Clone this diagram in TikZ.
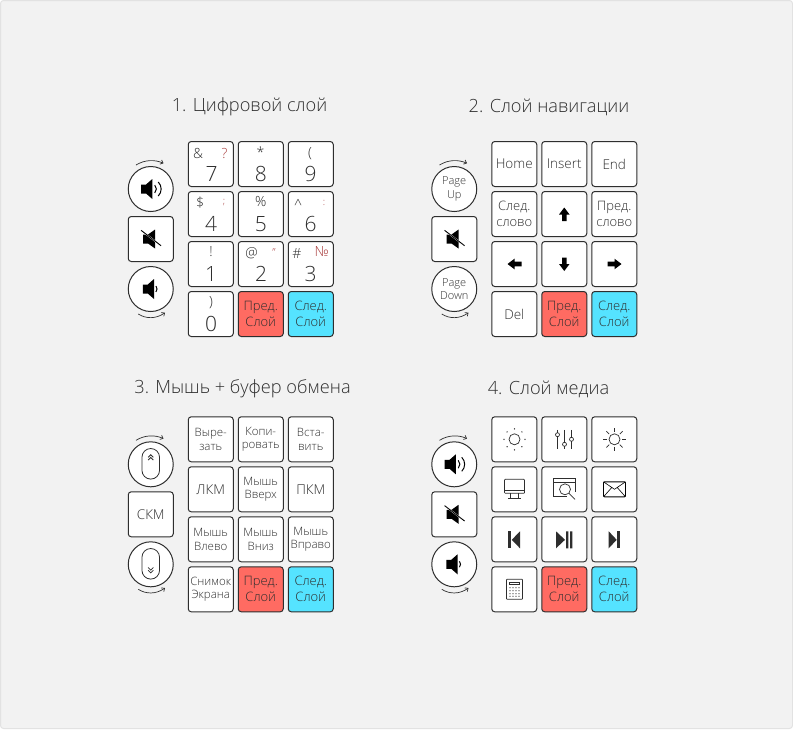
\documentclass[tikz,border=0pt]{standalone}
\usepackage{fontspec}
\setmainfont{Open Sans Light}
\usetikzlibrary{arrows.meta}
\definecolor{bgc}{HTML}{F2F2F2}
\definecolor{edgec}{HTML}{E2E2E2}
\definecolor{ink}{HTML}{2E2E2E}
\definecolor{redk}{HTML}{FF6B62}
\definecolor{cyank}{HTML}{55E3FF}
\definecolor{redt}{HTML}{A83A3A}
\tikzset{
  keybox/.style={draw=ink,line width=1pt,rounded corners=3pt,fill=white,minimum width=45pt,minimum height=45pt,inner sep=0pt,align=center,text=ink,font=\fontsize{13}{16}\selectfont},
  redbox/.style={keybox,fill=redk},
  cyanbox/.style={keybox,fill=cyank},
  big/.style={font=\fontsize{13.5}{16}\selectfont},
  small/.style={font=\fontsize{11.5}{13.5}\selectfont},
  roundkey/.style={draw=ink,line width=1pt,circle,fill=white,minimum size=45pt,inner sep=0pt,align=center,text=ink,font=\fontsize{11}{13.5}\selectfont},
  title/.style={font=\fontsize{18.2}{20}\selectfont,text=ink,inner sep=0pt},
  sym/.style={font=\fontsize{14}{14}\selectfont,text=ink,inner sep=0pt},
  symred/.style={sym,text=redt},
  digit/.style={font=\fontsize{21}{22}\selectfont,text=ink,inner sep=0pt},
  turn/.style={draw=ink,line width=.7pt,-{Straight Barb[length=2.5pt,width=4.5pt]}},
  thinicon/.style={draw=ink,line width=.7pt},
  solidicon/.style={fill=ink,draw=none}
}
% name, column, row, options, text
\newcommand{\K}[5]{\node[keybox,#4] (#1) at ({160.75+50*#2},{114+50*#3}) {#5};}
\newcommand{\spkshape}[2]{\fill[black,shift={(#1,#2)}] (-9.7,-4.5) -- (-4.7,-4.5) -- (1.6,-10) -- (1.6,10) -- (-4.7,4.5) -- (-9.7,4.5) -- cycle;}
\newcommand{\spkloud}[2]{\spkshape{#1}{#2}\draw[black,line width=1pt,shift={(#1,#2)}] (4,-4) arc[start angle=-45,end angle=45,radius=5.6] (7.5,-7) arc[start angle=-45,end angle=45,radius=9.9];}
\newcommand{\spklow}[2]{\fill[black,shift={(#1,#2)}] (-8,-4.5) -- (-3,-4.5) -- (3.3,-10) -- (3.3,10) -- (-3,4.5) -- (-8,4.5) -- cycle;\draw[black,line width=1pt,shift={(#1,#2)}] (5.2,-3) arc[start angle=-40,end angle=40,radius=4.6];}
\newcommand{\spkmute}[2]{\fill[black,shift={(#1,#2)}] (-7.7,-4.5) -- (-2.7,-4.5) -- (4.3,-9.5) -- (4.3,9.5) -- (-2.7,4.5) -- (-7.7,4.5) -- cycle;\draw[white,line width=1.4pt,shift={(#1,#2)}] (-9.7,-8.7) -- (10.3,6.7);\draw[black,line width=.9pt,shift={(#1,#2)}] (-9.7,-8.7) -- (10.3,6.7);}
\newcommand{\turns}{%
  \draw[turn] (136,165) .. controls (145,159.5) and (155,159.5) .. (163.5,163.3);
  \draw[turn] (138.3,314) .. controls (146,319) and (156,319) .. (165,312.7);
}
\newcommand{\mouseicon}[3]{%
  \draw[ink,line width=.8pt] (#1,#2) ++(-8.8,-6.5) arc[start angle=180,end angle=360,radius=8.8] -- ++(0,13) arc[start angle=0,end angle=180,radius=8.8] -- cycle;
  \draw[ink,line width=.8pt] (#1,#2) ++(-2.6,#3*-6.5) -- ++(2.6,#3*-2.6) -- ++(2.6,#3*2.6) ++(-5.2,#3*2.8) -- ++(2.6,#3*-2.6) -- ++(2.6,#3*2.6);
}
\begin{document}
\begin{tikzpicture}[x=1pt,y=-1pt]
\useasboundingbox (0,0) rectangle (793,729);
\draw[edgec,fill=bgc,line width=1pt,rounded corners=3pt] (.5,.5) rectangle (792.5,728.5);

% ---------- panel 1
\node[title] (t1) at (249.5,107) {1. Цифровой слой};
\turns
\node[roundkey] (a-up) at (150.75,189) {};
\spkloud{150.75}{189}
\node[keybox] (a-mute) at (150.75,239) {};
\spkmute{150.75}{239}
\node[roundkey] (a-dn) at (150.75,289) {};
\spklow{150.75}{289}
\K{a7}{1}{1}{}{}\K{a8}{2}{1}{}{}\K{a9}{3}{1}{}{}
\K{a4}{1}{2}{}{}\K{a5}{2}{2}{}{}\K{a6}{3}{2}{}{}
\K{a1}{1}{3}{}{}\K{a2}{2}{3}{}{}\K{a3}{3}{3}{}{}
\K{a0}{1}{4}{}{}\K{ap}{2}{4}{redbox}{Пред.\\Слой}\K{an}{3}{4}{cyanbox}{След.\\Слой}
\node[digit] (d7) at (211.5,173.5) {7};
\node[digit] (d8) at (260.75,173.5) {8};
\node[digit] (d9) at (310.5,173.5) {9};
\node[digit] (d4) at (211,224) {4};
\node[digit] (d5) at (260.75,224) {5};
\node[digit] (d6) at (310.5,224) {6};
\node[digit] (d1) at (211,274) {1};
\node[digit] (d2) at (261,274) {2};
\node[digit] (d3) at (310.5,274) {3};
\node[digit] (d0) at (211,324) {0};
\node[sym] (s7a) at (198,153) {\&};
\node[symred] (s7b) at (224.5,153) {?};
\node[sym] (s8) at (260.5,152) {*};
\node[sym] (s9) at (310,154) {(};
\node[sym] (s4a) at (200,203) {\$};
\node[symred,font=\fontsize{10}{10}\selectfont] (s4b) at (224,203) {;};
\node[sym] (s5) at (260.75,202) {\%};
\node[sym] (s6a) at (298,204) {\^{}};
\node[symred,font=\fontsize{10}{10}\selectfont] (s6b) at (324,203) {:};
\node[sym] (s1) at (211,252) {!};
\node[sym] (s2a) at (251.5,253) {@};
\node[symred,font=\fontsize{11}{11}\selectfont] (s2b) at (274,253) {"};
\node[sym] (s3a) at (297,253) {\#};
\node[symred] (s3b) at (321.7,251.5) {№};
\node[sym] (s0) at (211,303) {)};

% ---------- panel 2
\begin{scope}[shift={(303.5,0)}]
\node[title] (t2) at (245.5,107) {2. Слой навигации};
\turns
\node[roundkey] (b-up) at (150.75,189) {Page\\Up};
\node[keybox] (b-mute) at (150.75,239) {};
\spkmute{150.75}{239}
\node[roundkey] (b-dn) at (150.75,289) {Page\\Down};
\K{b1}{1}{1}{big}{Home}\K{b2}{2}{1}{big}{Insert}\K{b3}{3}{1}{big}{End}
\K{b4}{1}{2}{}{След.\\слово}\K{b5}{2}{2}{}{}\K{b6}{3}{2}{}{Пред.\\слово}
\K{b7}{1}{3}{}{}\K{b8}{2}{3}{}{}\K{b9}{3}{3}{}{}
\K{b0}{1}{4}{big}{Del}\K{bp}{2}{4}{redbox}{Пред.\\Слой}\K{bn}{3}{4}{cyanbox}{След.\\Слой}
\fill[black] (260.75,207.5) -- (266,214.5) -- (263,214.5) -- (263,221) -- (258.5,221) -- (258.5,214.5) -- (255.5,214.5) -- cycle;
\fill[black] (260.75,271) -- (266,264) -- (263,264) -- (263,257.5) -- (258.5,257.5) -- (258.5,264) -- (255.5,264) -- cycle;
\fill[black] (204,264) -- (211,258.7) -- (211,261.7) -- (218,261.7) -- (218,266.3) -- (211,266.3) -- (211,269.3) -- cycle;
\fill[black] (318,264) -- (311,258.7) -- (311,261.7) -- (304,261.7) -- (304,266.3) -- (311,266.3) -- (311,269.3) -- cycle;
\end{scope}

% ---------- panel 3
\begin{scope}[shift={(0,275.3)}]
\node[title] (t3) at (242.5,113.7) {3. Мышь + буфер обмена};
\turns
\node[roundkey] (c-up) at (150.75,189) {};
\mouseicon{150.75}{188.5}{1}
\node[keybox,big] (c-mute) at (150.75,239) {СКМ};
\node[roundkey] (c-dn) at (150.75,289) {};
\mouseicon{150.75}{288.5}{-1}
\K{c1}{1}{1}{small}{Выре-\\зать}\K{c2}{2}{1}{small}{Копи-\\ровать}\K{c3}{3}{1}{small}{Вста-\\вить}
\K{c4}{1}{2}{big}{ЛКМ}\K{c5}{2}{2}{small}{Мышь\\Вверх}\K{c6}{3}{2}{big}{ПКМ}
\K{c7}{1}{3}{small}{Мышь\\Влево}\K{c8}{2}{3}{small}{Мышь\\Вниз}\K{c9}{3}{3}{small}{Мышь\\Вправо}
\K{c0}{1}{4}{small}{Снимок\\Экрана}\K{cp}{2}{4}{redbox}{Пред.\\Слой}\K{cn}{3}{4}{cyanbox}{След.\\Слой}
\end{scope}

% ---------- panel 4
\begin{scope}[shift={(303.5,275.3)}]
\node[title] (t4) at (245,113.7) {4. Слой медиа};
\turns
\node[roundkey] (e-up) at (150.75,189) {};
\spkloud{150.75}{189}
\node[keybox] (e-mute) at (150.75,239) {};
\spkmute{150.75}{239}
\node[roundkey] (e-dn) at (150.75,289) {};
\spklow{150.75}{289}
\K{e1}{1}{1}{}{}\K{e2}{2}{1}{}{}\K{e3}{3}{1}{}{}
\K{e4}{1}{2}{}{}\K{e5}{2}{2}{}{}\K{e6}{3}{2}{}{}
\K{e7}{1}{3}{}{}\K{e8}{2}{3}{}{}\K{e9}{3}{3}{}{}
\K{e0}{1}{4}{}{}\K{ep}{2}{4}{redbox}{Пред.\\Слой}\K{en}{3}{4}{cyanbox}{След.\\Слой}
% dim sun
\begin{scope}[shift={(211,164)}]
\draw[thinicon] (0,0) circle (5.5);
\foreach \a in {0,45,...,315} \fill[ink] (\a:10.5) circle (.7);
\end{scope}
% sliders
\begin{scope}[shift={(261,164)}]
\draw[thinicon] (-7,-9.5) -- (-7,-6.6) (-7,-2.6) -- (-7,9.5) (0,-9.5) -- (0,3) (0,7) -- (0,9.5) (7,-9.5) -- (7,-2) (7,2) -- (7,9.5);
\draw[thinicon] (-7,-4.6) circle (2) (0,5) circle (2) (7,0) circle (2);
\end{scope}
% bright sun
\begin{scope}[shift={(311,164)}]
\draw[thinicon] (0,0) circle (5.5);
\foreach \a in {0,45,...,315} \draw[thinicon] (\a:7.5) -- (\a:11.5);
\end{scope}
% monitor
\begin{scope}[shift={(211,214)}]
\draw[thinicon,rounded corners=.8pt] (-10,-10) rectangle (10,4);
\draw[thinicon] (-10,1.5) -- (10,1.5) (-4,4) -- (-4,9.5) (4,4) -- (4,9.5) (-6.5,9.5) -- (6.5,9.5);
\end{scope}
% browser search
\begin{scope}[shift={(261,214)}]
\draw[thinicon] (-11,-10.5) rectangle (11,7);
\draw[thinicon] (-11,-6.5) -- (11,-6.5);
\fill[white] (2,3) rectangle (11.5,7.5);
\draw[thinicon,fill=white] (.5,0) circle (5.5);
\draw[thinicon] (4.5,4) -- (10.5,10);
\end{scope}
% mail
\begin{scope}[shift={(311,214)}]
\draw[black,line width=.9pt,rounded corners=1pt] (-11,-7.5) rectangle (11,7.5);
\draw[black,line width=.6pt] (-11,-7.5) -- (0,0) -- (11,-7.5) (-11,7.5) -- (-3,-1.5) (11,7.5) -- (3,-1.5);
\end{scope}
% previous
\fill[ink] (204.5,256) rectangle (207.8,273);
\fill[ink] (208.3,264.5) -- (216.5,256) -- (216.5,273) -- cycle;
% play-pause
\fill[ink] (252.5,256) -- (261.5,264.5) -- (252.5,273) -- cycle;
\fill[ink] (262.5,256) rectangle (264.8,273) (266.5,256) rectangle (268.8,273);
% next
\fill[ink] (305.2,256) -- (313.2,264.5) -- (305.2,273) -- cycle;
\fill[ink] (313.8,256) rectangle (316.8,273);
% calculator
\begin{scope}[shift={(211,314)}]
\draw[thinicon,rounded corners=.6pt] (-8,-10) rectangle (8,10);
\draw[thinicon] (-4.8,-7.2) rectangle (4.8,-4.5);
\foreach \i in {-4.5,-1.5,1.5,4.5} \foreach \j in {-1.5,1.5,4.5,7} \fill[ink] (\i,\j) circle (.6);
\end{scope}
\end{scope}
\end{tikzpicture}
\end{document}
